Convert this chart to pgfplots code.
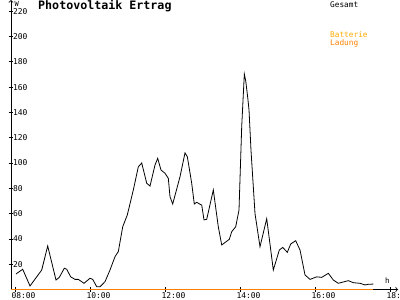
\documentclass[border=0pt]{standalone}
\usepackage{pgfplots}
\pgfplotsset{compat=1.18}
\usepackage{fontspec}
\setmainfont{DejaVu Sans Mono}
\setmonofont{DejaVu Sans Mono}
\definecolor{ladung}{HTML}{FF8000}
\definecolor{batterie}{HTML}{FFAA00}
\begin{document}
\begin{tikzpicture}
\useasboundingbox (-11bp,-10.5bp) rectangle (389bp,289.5bp);
\begin{axis}[
  at={(0,0)}, anchor=south west,
  scale only axis, width=387bp, height=289.5bp,
  xmin=7.893, xmax=18.213, ymin=0, ymax=228.9,
  axis lines=left,
  axis line style={->, line width=0.8pt},
  tick align=center, major tick length=5bp,
  tick style={black, line width=0.8pt},
  xtick={8,10,12,14,16,18},
  xticklabels={08:00,10:00,12:00,14:00,16:00,18:00},
  ytick={20,40,...,220},
  /pgf/number format/assume math mode=true,
  ticklabel style={font=\fontsize{8}{8}\selectfont},
  yticklabel style={anchor=west, xshift=1bp},
  xticklabel style={anchor=north west, xshift=-7bp, yshift=2.5bp},
  clip=false,
]
\addplot[ladung, line width=0.8pt] coordinates {(7.893,0) (17.555,0)};
\addplot[black, line width=0.8pt] coordinates {
(8.027,12.3) (8.205,16) (8.4,2.8) (8.712,15.4) (8.872,34.4) (9.093,7.5)
(9.181,9.6) (9.315,16.8) (9.379,16) (9.485,10) (9.6,8) (9.688,8)
(9.84,4.9) (10.0,8.9) (10.072,8) (10.179,2.2) (10.267,2.2) (10.4,6.2)
(10.533,15.4) (10.667,26) (10.755,30) (10.872,49.6) (10.995,59)
(11.155,78.7) (11.288,97) (11.379,100) (11.512,84) (11.6,81.8)
(11.733,98.4) (11.805,103.7) (11.893,94.5) (12.0,91.9) (12.088,87.9)
(12.133,73.4) (12.205,67.6) (12.4,89.2) (12.533,108) (12.595,105)
(12.712,84) (12.781,67.6) (12.845,69) (12.933,67.4) (12.979,66.8)
(13.04,55) (13.112,55.5) (13.288,78.7) (13.421,49.6) (13.512,35.2)
(13.715,39.7) (13.779,45.7) (13.885,49.6) (13.973,62.8) (14.045,128.7)
(14.115,170.4) (14.152,165) (14.205,152) (14.24,142) (14.293,110)
(14.4,60) (14.533,33.8) (14.712,56) (14.888,15.4) (15.048,31.2)
(15.139,33.3) (15.261,29.4) (15.352,36) (15.485,38.6) (15.6,31.2)
(15.733,11.5) (15.867,8) (16.045,10) (16.179,9.6) (16.355,12.8)
(16.488,7.5) (16.621,4.9) (16.888,7) (17.021,5.4) (17.2,4.9)
(17.333,3.6) (17.421,4.1) (17.555,4.3)
};
\end{axis}
\node[anchor=base west, inner sep=0, font=\bfseries\fontsize{11.7}{12}\selectfont] at (27bp,279.5bp) {Photovoltaik Ertrag};
\node[anchor=base west, inner sep=0, font=\fontsize{7.8}{8}\selectfont] at (319bp,281.5bp) {Gesamt};
\node[anchor=base west, inner sep=0, text=batterie, font=\fontsize{7.8}{8}\selectfont] at (319bp,252bp) {Batterie};
\node[anchor=base west, inner sep=0, text=ladung, font=\fontsize{7.8}{8}\selectfont] at (319bp,243.5bp) {Ladung};
\node[anchor=base west, inner sep=0, font=\fontsize{7}{8}\selectfont] at (3.5bp,283bp) {W};
\node[anchor=base west, inner sep=0, font=\fontsize{7.5}{8}\selectfont] at (374bp,6.5bp) {h};
\end{tikzpicture}
\end{document}
